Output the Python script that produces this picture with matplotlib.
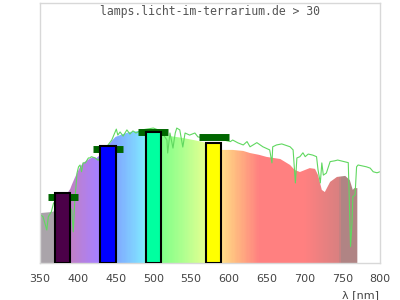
import matplotlib.pyplot as plt
import numpy as np
from matplotlib.colors import LinearSegmentedColormap

# lamp spectrum (coloured area), relative intensity
spec_nm = [350, 365, 370, 380, 390, 392, 396, 399, 403, 407, 413, 420, 425, 435, 445,
           450, 460, 469, 482, 495, 505, 509, 520, 539, 555, 566, 580, 591, 605, 619,
           628, 640, 650, 668, 681, 687, 694, 707, 714, 718, 723, 727, 734, 743, 754,
           760, 764, 766, 770]
spec_val = [19.2, 19.6, 20.0, 24.0, 28.5, 30.0, 32.7, 34.6, 36.9, 38.5, 39.6, 40.8, 40.4, 43.0, 47.0,
            48.5, 49.6, 50.4, 50.8, 50.8, 50.2, 49.2, 48.9, 48.1, 47.2, 46.5, 45.2, 43.5, 43.5, 43.1,
            42.3, 41.6, 40.8, 40.0, 37.7, 35.8, 35.0, 36.5, 36.2, 33.8, 28.1, 27.3, 31.2, 33.1, 33.5,
            31.9, 28.1, 28.8, 28.8]

# sunlight reference (green line)
sun_nm = [350, 351, 354, 359, 361, 365, 368, 375, 385, 392, 394, 396, 399, 401, 403, 405,
          407, 410, 414, 416, 418, 423, 427, 435, 445, 451, 453, 456, 460, 465, 469, 473,
          477, 485, 500, 510, 518, 519, 522, 526, 529, 531, 535, 539, 542, 548, 555, 559,
          570, 590, 602, 605, 612, 619, 624, 628, 632, 637, 645, 654, 657, 658, 663, 670,
          681, 685, 688, 690, 694, 698, 701, 705, 711, 716, 718, 721, 723, 725, 729, 734,
          740, 744, 758, 759, 761, 763, 764, 767, 769, 771, 782, 787, 791, 796, 800]
sun_val = [18.5, 18.5, 17.8, 12.7, 17.8, 19.7, 23.1, 24.2, 23.5, 20.4, 12.0, 23.6, 34.6, 37.0, 37.7, 35.1,
           38.5, 38.5, 40.4, 40.4, 40.9, 40.4, 39.5, 43.5, 47.3, 51.5, 49.2, 50.4, 48.8, 51.2, 49.6, 50.8,
           50.0, 51.2, 51.9, 50.8, 47.3, 42.3, 50.0, 44.2, 50.0, 51.9, 51.2, 44.6, 50.0, 49.2, 50.0, 48.5,
           48.0, 47.5, 46.7, 47.3, 46.2, 45.4, 46.7, 44.7, 45.4, 46.3, 44.7, 43.5, 38.5, 44.7, 45.4, 45.8,
           44.7, 43.5, 30.8, 40.4, 40.9, 42.4, 40.9, 41.9, 41.5, 40.9, 35.8, 30.8, 38.5, 33.8, 34.6, 39.0,
           39.3, 39.6, 38.6, 28.1, 6.3, 15.4, 25.5, 26.2, 37.0, 37.7, 37.0, 36.5, 35.1, 34.7, 35.1]

# lamp bands (bars) and target values (green markers)
bar_nm = [380, 440, 500, 580]
bar_val = [27.1, 45.0, 50.2, 46.3]
bar_colors = ['#4b0048', '#0000ff', '#00ffa0', '#ffff00']
target_val = [25.2, 43.8, 50.2, 48.3]

xticks = [350, 400, 450, 500, 550, 600, 650, 700, 750, 800]

# colour of the spectrum area along the wavelength
stops = [(350, '#aaa4aa'), (369.9, '#aaa4aa'), (370, '#c484c4'), (391, '#c080c8'),
         (425, '#a880ff'), (450, '#80a8ff'), (487, '#80e8ff'), (492, '#80ffc0'),
         (510, '#80ff88'), (540, '#b0ff90'), (568, '#e4ff90'), (590, '#ffe088'),
         (610, '#ffb880'), (640, '#ff8080'), (700, '#ff8080'), (746.9, '#d88080'),
         (747, '#b08484'), (770, '#b08484')]
cmap = LinearSegmentedColormap.from_list(
    'spec', [((w - 350) / 420, c) for w, c in stops])

fig = plt.figure(figsize=(4, 3), dpi=100)
ax = fig.add_axes([0.1, 0.1233, 0.85, 0.8667])

poly = ax.fill_between(spec_nm, spec_val, 0, color='none', lw=0)
grad = np.linspace(0, 1, 841).reshape(1, -1)
img = ax.imshow(grad, extent=(350, 770, 0, 100), aspect='auto', cmap=cmap,
                origin='lower', zorder=1, interpolation='nearest')
img.set_clip_path(poly.get_paths()[0], transform=ax.transData)

ax.plot(sun_nm, sun_val, color='#60d860', lw=0.8, zorder=2)

ax.hlines(target_val, np.array(bar_nm) - 20, np.array(bar_nm) + 20,
          color='#006600', linewidth=5, zorder=3)
ax.bar(bar_nm, bar_val, width=20, color=bar_colors, edgecolor='black',
       linewidth=1.5, zorder=4)

ax.set_xlim(350, 800)
ax.set_ylim(0, 100)
ax.set_xticks(xticks)
ax.set_yticks([])
ax.tick_params(axis='x', length=0, labelsize=8, colors='#444444', pad=8)
for s in ax.spines.values():
    s.set_color('#d8d8d8')
    s.set_linewidth(1)

ax.text(0.5, 0.969, 'lamps.licht-im-terrarium.de > 30', transform=ax.transAxes,
        ha='center', va='center', family='DejaVu Sans Mono', fontsize=8.3,
        color='#555555')
fig.text(379 / 400, 1 - 295 / 300, 'λ [nm]', ha='right', va='center',
         fontsize=8, color='#444444')

fig.savefig('out.png', dpi=100)
